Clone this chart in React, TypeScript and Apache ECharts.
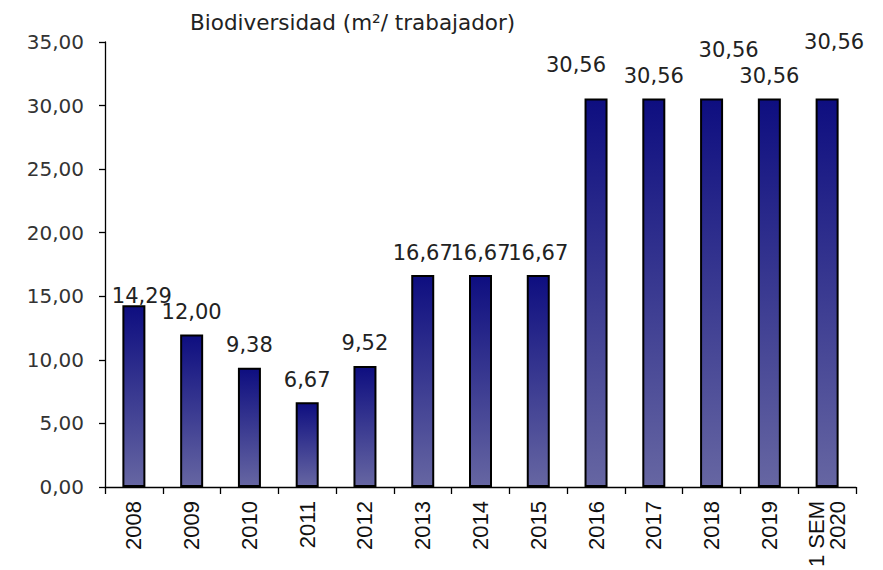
import React, { useEffect, useRef } from "react";
import * as echarts from "echarts";

const categories = ["2008", "2009", "2010", "2011", "2012", "2013", "2014", "2015", "2016", "2017", "2018", "2019", "1 SEM\n2020"];
const values = [14.29, 12.0, 9.38, 6.67, 9.52, 16.67, 16.67, 16.67, 30.56, 30.56, 30.56, 30.56, 30.56];
const yMin = 0;
const yMax = 35;
const yInterval = 5;
const titleText = "Biodiversidad (m²/ trabajador)";

// label nudges (style only), by index
const labelOffsets: number[][] = [
  [8, 13], [0, 0], [0, 0], [0, 0], [0, 0], [0, 0], [0, 0], [0, 0],
  [-20, -11], [0, 0], [17, -26], [0, 0], [7, -34],
];

const fmt = (v: number) => v.toFixed(2).replace(".", ",");

export default function App() {
  const ref = useRef<HTMLDivElement>(null);
  useEffect(() => {
    if (!ref.current) return;
    const chart = echarts.init(ref.current, undefined, { renderer: "svg" });
    const font = "'DejaVu Sans', Verdana, sans-serif";
    chart.setOption({
      animation: false,
      backgroundColor: "#ffffff",
      title: {
        text: titleText,
        left: 185,
        top: 6,
        textStyle: { fontFamily: font, fontSize: 21.5, fontWeight: "normal", color: "#222" },
      },
      grid: { left: 105, right: 27, top: 42, bottom: 78, containLabel: false },
      xAxis: {
        type: "category",
        data: categories,
        boundaryGap: true,
        axisLine: { lineStyle: { color: "#000", width: 1.3 } },
        axisTick: { show: true, alignWithLabel: false, length: 7, inside: false, lineStyle: { color: "#000", width: 1.3 } },
        axisLabel: {
          rotate: 90,
          interval: 0,
          margin: 14,
          fontFamily: "'Liberation Sans', Arial, sans-serif",
          fontSize: 22,
          color: "#111",
          lineHeight: 21,
        },
      },
      yAxis: {
        type: "value",
        min: yMin,
        max: yMax,
        interval: yInterval,
        splitLine: { show: false },
        axisLine: { show: true, lineStyle: { color: "#000", width: 1.3 } },
        axisTick: { show: true, length: 6, lineStyle: { color: "#000", width: 1.3 } },
        axisLabel: {
          formatter: (v: number) => fmt(v),
          fontFamily: font,
          fontSize: 20,
          color: "#333",
          margin: 21,
        },
      },
      series: [
        {
          type: "bar",
          barWidth: 23,
          data: values.map((v, i) => ({
            value: v,
            label: { offset: labelOffsets[i] },
          })),
          itemStyle: {
            color: new echarts.graphic.LinearGradient(0, 0, 0, 1, [
              { offset: 0, color: "#0e0e80" },
              { offset: 1, color: "#6666a2" },
            ]),
            borderColor: "#000",
            borderWidth: 2,
          },
          label: {
            show: true,
            position: "top",
            distance: 12,
            formatter: (p: any) => fmt(p.value),
            fontFamily: font,
            fontSize: 21,
            color: "#222",
          },
        },
      ],
    });
    return () => chart.dispose();
  }, []);
  return <div ref={ref} style={{ width: 883, height: 570, position: "absolute", left: 0, top: 0 }} />;
}
